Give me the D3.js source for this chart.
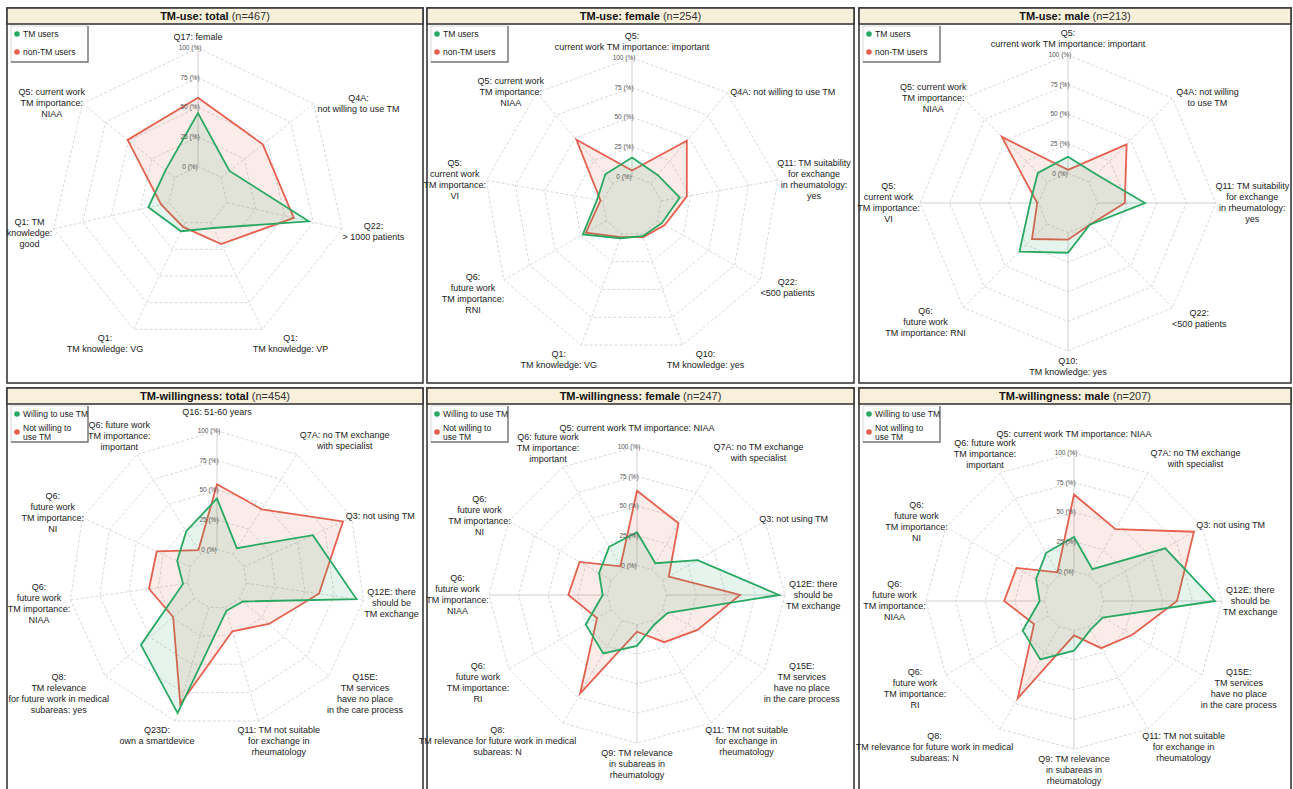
<!DOCTYPE html>
<html>
<head>
<meta charset="utf-8">
<script src="https://cdn.jsdelivr.net/npm/d3@7"></script>
<style>
	body{margin:0;background:#fff;}
	svg{display:block;font-family:"Liberation Sans",Arial,sans-serif;}
</style>
</head>
<body>
<svg id="svg"></svg>
<script>
"use strict";

// ---- data (values in %), "|" = line break in a label ----
var ticks = [0, 25, 50, 75, 100];

var useLegend  = ["TM users", "non-TM users"];
var willLegend = ["Willing to use TM", "Not willing to|use TM"];

var useTotalAxes = ["Q17: female", "Q4A:|not willing to use TM", "Q22:|> 1000 patients", "Q1:|TM knowledge:  VP",
	"Q1:|TM knowledge: VG", "Q1: TM|knowledge:|good", "Q5: current work|TM importance:|NIAA"];
var useTotalUsers    = [45, 9, 71, 5, 8, 18, 10];
var useTotalNonUsers = [58, 45, 58, 20, 4, 7, 51];

var useFemaleAxes = ["Q5:|current work TM importance: important", "Q4A: not willing to use TM",
	"Q11: TM suitability|for exchange|in rheumatology:|yes", "Q22:|<500 patients", "Q10:|TM knowledge: yes",
	"Q1:|TM knowledge: VG", "Q6:|future work|TM importance:|RNI", "Q5:|current work|TM importance:|VI",
	"Q5: current work|TM importance:|NIAA"];
var useFemaleUsers    = [16, 9, 16, 4, 2, 4, 23, 5, 10];
var useFemaleNonUsers = [5, 47, 22, 7, 3, 3, 20, 2, 48];

var useMaleAxes = ["Q5:|current work TM importance: important", "Q4A: not willing|to use TM",
	"Q11: TM suitability|for exchange|in rheumatology:|yes", "Q22:|<500 patients", "Q10:|TM knowledge: yes",
	"Q6:|future work|TM importance: RNI", "Q5:|current work|TM importance:|VI", "Q5: current work|TM importance:|NIAA"];
var useMaleUsers    = [14, 9, 40, 1, 17, 33, 7, 11];
var useMaleNonUsers = [3, 45, 23, 1, 6, 18, 1, 54];

var willTotalAxes = ["Q16: 51-60 years", "Q7A: no TM exchange|with specialist", "Q3: not using TM",
	"Q12E: there|should be|TM exchange", "Q15E:|TM services|have no place|in the care process",
	"Q11: TM not suitable|for exchange in|rheumatology", "Q23D:|own a smartdevice",
	"Q8:|TM relevance|for future work in medical|subareas: yes", "Q6:|future work|TM importance:|NIAA",
	"Q6:|future work|TM importance:|NI", "Q6: future work|TM importance:|important"];
var willTotalWilling = [43, 6, 64, 94, 4, 3, 93, 60, 4, 12, 23];
var willTotalNot     = [55, 45, 92, 62, 33, 21, 85, 24, 33, 31, 4];

var willSexAxes = ["Q5: current work TM importance: NIAA", "Q7A: no TM exchange|with specialist", "Q3: not using TM",
	"Q12E: there|should be|TM exchange", "Q15E:|TM services|have no place|in the care process",
	"Q11: TM not suitable|for exchange in|rheumatology", "Q9: TM relevance|in subareas in|rheumatology",
	"Q8:|TM relevance for future work in medical|subareas: N", "Q6:|future work|TM importance:|RI",
	"Q6:|future work|TM importance:|NIAA", "Q6:|future work|TM importance:|NI", "Q6: future work|TM importance:|important"];
var willFemaleWilling = [28, 6, 34, 95, 5, 4, 18, 32, 25, 4, 12, 22];
var willFemaleNot     = [63, 45, 6, 62, 34, 21, 6, 71, 14, 33, 31, 3];
var willMaleWilling   = [29, 6, 64, 94, 3, 3, 17, 32, 25, 4, 12, 22];
var willMaleNot       = [65, 45, 92, 62, 32, 21, 4, 70, 14, 34, 31, 3];

// ---- layout ----
var
	width  = 1293,
	height = 789,
	R      = 148,
	LINE_H = 11,
	green  = "#29a862",
	red    = "#e5604e",

	boxes = [
		{x:7,   y:8,   w:416, h:375, cx:198,  cy:196},
		{x:427, y:8,   w:427, h:375, cx:632,  cy:206},
		{x:859, y:8,   w:432, h:375, cx:1068, cy:203},
		{x:7,   y:388, w:416, h:410, cx:217,  cy:579},
		{x:427, y:388, w:427, h:410, cx:637,  cy:595},
		{x:859, y:388, w:432, h:410, cx:1074, cy:601}
	],

	panels = [
		{title:"TM-use: total",          n:"(n=467)", axes:useTotalAxes,  a:useTotalUsers,     b:useTotalNonUsers,  legend:useLegend},
		{title:"TM-use: female",         n:"(n=254)", axes:useFemaleAxes, a:useFemaleUsers,    b:useFemaleNonUsers, legend:useLegend},
		{title:"TM-use: male",           n:"(n=213)", axes:useMaleAxes,   a:useMaleUsers,      b:useMaleNonUsers,   legend:useLegend},
		{title:"TM-willingness: total",  n:"(n=454)", axes:willTotalAxes, a:willTotalWilling,  b:willTotalNot,      legend:willLegend},
		{title:"TM-willingness: female", n:"(n=247)", axes:willSexAxes,   a:willFemaleWilling, b:willFemaleNot,     legend:willLegend},
		{title:"TM-willingness: male",   n:"(n=207)", axes:willSexAxes,   a:willMaleWilling,   b:willMaleNot,       legend:willLegend}
	],

	svg = d3.select("#svg").attr("width", width).attr("height", height),

	r = d3.scaleLinear().domain([-25, 100]).range([0, R]),

	clamp = function(v, lo, hi){ return Math.max(lo, Math.min(hi, v)); },

	// where a label block sits relative to its outer vertex
	placeLabel = function(s, c, w, h, lines, n){
		var as = Math.abs(s), f, pad = 5, x, y;

		if(as < 1e-6){
			f = 0;
			if(c > 0 && lines === 1 && n >= 10) pad = 13;
		}
		else if(c > 0.3 && s > 0) f = as < 0.8 ? 1 : 0.7;
		else if(c > 0.3 && s < 0) f = clamp((as - 0.3) * 2, 0.3, 0.8);
		else f = Math.min(0.85, 1.6 * as);

		x = s * (R + pad) + (s > 0 ? 1 : -1) * f * w / 2;

		if(c > 0 && as > 0.6){
			// side labels in the upper half sit level with their vertex
			y = -c * R - (n >= 10 ? c * 0.5 * h / 2 : 0);
		}
		else {
			y = -c * (R + pad) - c * h / 2;
		}
		return {x: x, y: y};
	},

	drawPanel = function(p, box){

		var g = svg.append("g"),
			n = p.axes.length,
			step = 2 * Math.PI / n,
			idx = d3.range(n);

		// frame + title bar
		g.append("rect")
			.attr("x", box.x).attr("y", box.y).attr("width", box.w).attr("height", box.h)
			.attr("fill", "#fff").attr("stroke", "#3a3a3a").attr("stroke-width", 1.6);
		g.append("rect")
			.attr("x", box.x).attr("y", box.y).attr("width", box.w).attr("height", 16)
			.attr("fill", "#f8f0da").attr("stroke", "#3a3a3a").attr("stroke-width", 1.6);

		var title = g.append("text")
			.attr("x", box.x + box.w / 2).attr("y", box.y + 12)
			.attr("text-anchor", "middle").attr("font-size", 11).attr("fill", "#111");
		title.append("tspan").attr("font-weight", "bold").text(p.title);
		title.append("tspan").attr("fill", "#333").text(" " + p.n);

		var plot = g.append("g").attr("transform", "translate(" + box.cx + "," + box.cy + ")");

		// rings
		plot.selectAll(".ring")
			.data(ticks)
			.enter()
			.append("path")
			.attr("class", "ring")
			.attr("d", function(t){
				return d3.lineRadial()
					.angle(function(d){ return d * step; })
					.radius(r(t))
					.curve(d3.curveLinearClosed)(idx);
			})
			.attr("fill", "none")
			.attr("stroke", "#c9c9c9")
			.attr("stroke-width", 0.7)
			.attr("stroke-dasharray", "3,2");

		// spokes (the ones on the cross render solid)
		var onCross = function(i){ return Math.abs(Math.sin(2 * i * step)) < 1e-6; };
		plot.selectAll(".spoke")
			.data(idx)
			.enter()
			.append("line")
			.attr("x1", function(i){ return Math.sin(i * step) * r(0); })
			.attr("y1", function(i){ return -Math.cos(i * step) * r(0); })
			.attr("x2", function(i){ return Math.sin(i * step) * r(100); })
			.attr("y2", function(i){ return -Math.cos(i * step) * r(100); })
			.attr("stroke", function(i){ return onCross(i) ? "#bdbdbd" : "#c9c9c9"; })
			.attr("stroke-width", 0.7)
			.attr("stroke-dasharray", function(i){ return onCross(i) ? null : "3,2"; });

		// series (non users / not willing first, green on top)
		var radar = d3.lineRadial()
			.angle(function(d, i){ return i * step; })
			.radius(function(d){ return r(d); })
			.curve(d3.curveLinearClosed);

		[[p.b, red], [p.a, green]].forEach(function(s){
			plot.append("path")
				.attr("d", radar(s[0]))
				.attr("fill", s[1])
				.attr("fill-opacity", 0.12)
				.attr("stroke", s[1])
				.attr("stroke-width", 1.8)
				.attr("stroke-linejoin", "miter");
		});

		// tick labels
		plot.selectAll(".tick")
			.data(ticks)
			.enter()
			.append("text")
			.attr("x", -8)
			.attr("y", function(t){ return -r(t); })
			.attr("dy", "0.35em")
			.attr("text-anchor", "middle")
			.attr("font-size", 6.5)
			.attr("fill", "#555")
			.text(function(t){ return t + " (%)"; });

		// axis labels
		p.axes.forEach(function(label, i){
			var lines = label.split("|"),
				a = i * step,
				t = plot.append("text")
					.attr("text-anchor", "middle")
					.attr("font-size", 9)
					.attr("fill", "#222");

			var spans = lines.map(function(l){ return t.append("tspan").text(l); }),
				w = d3.max(spans, function(sp){ return sp.node().getComputedTextLength(); }),
				h = lines.length * LINE_H,
				pos = placeLabel(Math.sin(a), Math.cos(a), w, h, lines.length, n);

			spans.forEach(function(sp, k){
				sp.attr("x", pos.x).attr("y", pos.y - h / 2 + LINE_H * k + 8);
			});
		});

		// legend
		var lg = g.append("g").attr("transform", "translate(" + (box.x + 4) + "," + (box.y + 18) + ")");
		lg.append("rect")
			.attr("width", 77).attr("height", 36)
			.attr("fill", "#fff").attr("stroke", "#cfcfcf").attr("stroke-width", 0.8);
		lg.append("path")
			.attr("d", "M77,0V36H0")
			.attr("fill", "none").attr("stroke", "#777").attr("stroke-width", 1.4);

		p.legend.forEach(function(item, k){
			var lines = item.split("|"),
				yc = 8 + k * 18,
				col = k === 0 ? green : red;
			lg.append("circle").attr("cx", 6).attr("cy", yc).attr("r", 2.8).attr("fill", col);
			var t = lg.append("text").attr("font-size", 8.5).attr("fill", "#222");
			lines.forEach(function(l, j){
				t.append("tspan")
					.attr("x", 12)
					.attr("y", yc + 3 + (j - (lines.length - 1) / 2) * 9)
					.text(l);
			});
		});
	},

	init = function(){
		panels.forEach(function(p, i){ drawPanel(p, boxes[i]); });
	};

init();
</script>
</body>
</html>
